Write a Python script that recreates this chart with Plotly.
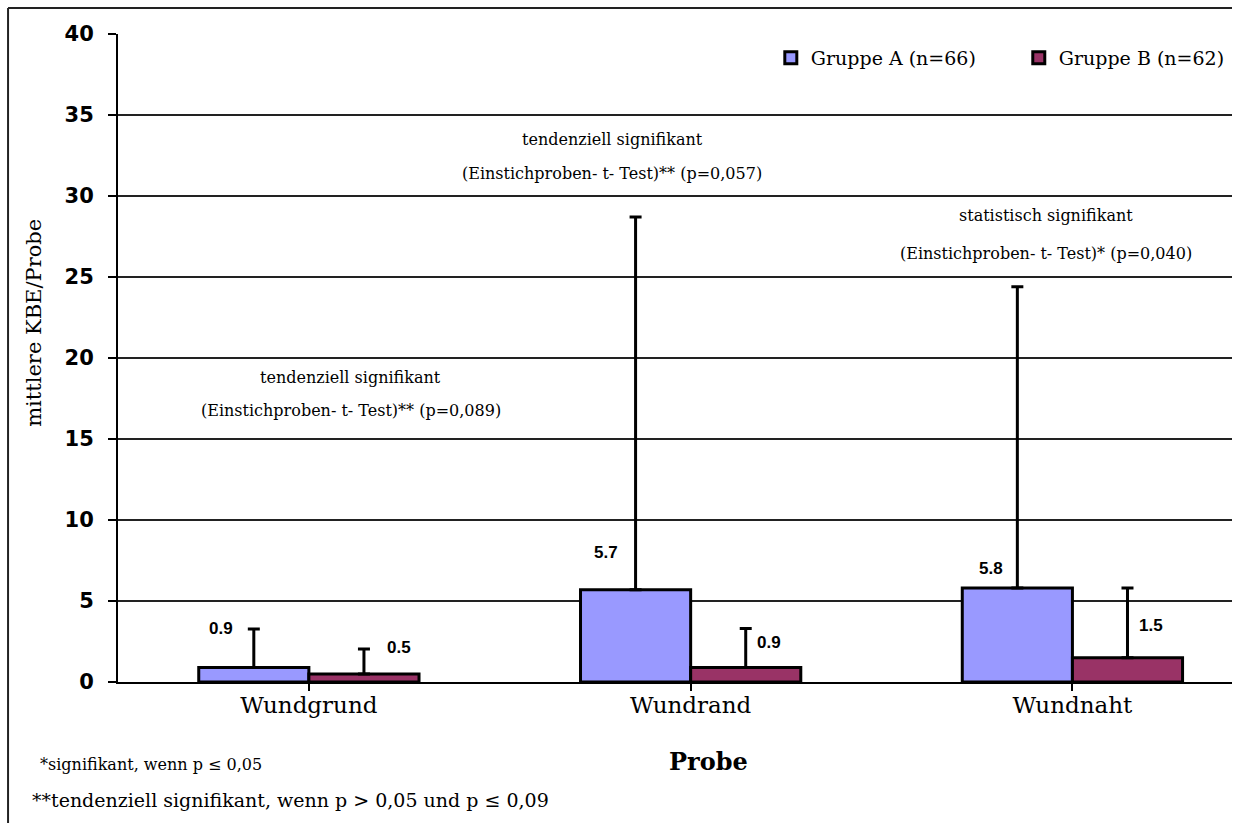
import plotly.graph_objects as go

categories = ["Wundgrund", "Wundrand", "Wundnaht"]
group_a = [0.9, 5.7, 5.8]
group_b = [0.5, 0.9, 1.5]
err_a = [2.37, 23.0, 18.6]
err_b = [1.54, 2.4, 4.3]
names = ["Gruppe A (n=66)", "Gruppe B (n=62)"]
yticks = [0, 5, 10, 15, 20, 25, 30, 35, 40]

sig_texts = [
    ["tendenziell signifikant", "(Einstichproben- t- Test)** (p=0,089)"],
    ["tendenziell signifikant", "(Einstichproben- t- Test)** (p=0,057)"],
    ["statistisch signifikant", "(Einstichproben- t- Test)* (p=0,040)"],
]
footnotes = ["*signifikant, wenn p \u2264 0,05",
             "**tendenziell signifikant, wenn p > 0,05 und p \u2264 0,09"]

SERIF = "DejaVu Serif"
xs = list(range(len(categories)))

fig = go.Figure()
fig.add_trace(go.Bar(
    x=xs, y=group_a, name=names[0], legend="legend",
    marker=dict(color="#9999FF", line=dict(color="black", width=3)),
    error_y=dict(type="data", symmetric=False, array=err_a, arrayminus=[0]*3,
                 color="black", thickness=3, width=6),
))
fig.add_trace(go.Bar(
    x=xs, y=group_b, name=names[1], legend="legend2",
    marker=dict(color="#993366", line=dict(color="black", width=3)),
    error_y=dict(type="data", symmetric=False, array=err_b, arrayminus=[0]*3,
                 color="black", thickness=3, width=6),
))

annotations = []
half = (1 - 0.423) / 4
# value labels (offsets in pixels)
a_shift = [(-33, 39), (-30, 37), (-26, 20)]
b_shift = [(35, 26), (23, 25), (24, 32)]
lab_font = dict(family="Liberation Sans", size=17, color="black", weight="bold")
for i in xs:
    annotations.append(dict(x=i - half, y=group_a[i], xref="x", yref="y",
                            text=f"{group_a[i]:.1f}", showarrow=False,
                            xshift=a_shift[i][0], yshift=a_shift[i][1], font=lab_font))
    annotations.append(dict(x=i + half, y=group_b[i], xref="x", yref="y",
                            text=f"{group_b[i]:.1f}", showarrow=False,
                            xshift=b_shift[i][0], yshift=b_shift[i][1], font=lab_font))

# significance texts
sig_pos = [(0.109, 18.77, 16.79), (0.795, 33.46, 31.36), (1.93, 28.77, 26.48)]
for (x, y1, y2), lines in zip(sig_pos, sig_texts):
    for yy, t in zip((y1, y2), lines):
        annotations.append(dict(x=x, y=yy, xref="x", yref="y", text=t, showarrow=False,
                                font=dict(family=SERIF, size=16, color="black")))

# axis titles
annotations.append(dict(x=-0.075, y=0.555, xref="paper", yref="paper", text="mittlere KBE/Probe",
                        textangle=-90, showarrow=False, xanchor="center", yanchor="middle",
                        font=dict(family=SERIF, size=21, color="black")))
annotations.append(dict(x=0.53, y=-0.123, xref="paper", yref="paper", text="Probe",
                        showarrow=False, xanchor="center", yanchor="middle",
                        font=dict(family=SERIF, size=24, color="black", weight="bold")))
# footnotes
annotations.append(dict(x=-0.0718, y=-0.128, xref="paper", yref="paper", text=footnotes[0],
                        xanchor="left", yanchor="middle", showarrow=False,
                        font=dict(family=SERIF, size=16, color="black")))
annotations.append(dict(x=-0.079, y=-0.182, xref="paper", yref="paper", text=footnotes[1],
                        xanchor="left", yanchor="middle", showarrow=False,
                        font=dict(family=SERIF, size=19, color="black")))

shapes = [
    dict(type="line", xref="paper", yref="paper", x0=-0.0987, x1=-0.0987, y0=1.040, y1=-0.22,
         line=dict(color="#222", width=2)),
    dict(type="line", xref="paper", yref="paper", x0=-0.0987, x1=1.0, y0=1.040, y1=1.040,
         line=dict(color="#222", width=2)),
]

leg_common = dict(orientation="h", xanchor="left", y=0.963, yanchor="middle",
                  font=dict(family=SERIF, size=19, color="black"), bgcolor="rgba(0,0,0,0)")

fig.update_layout(
    width=1247, height=823,
    margin=dict(l=118, r=15, t=34, b=141, autoexpand=False),
    paper_bgcolor="white", plot_bgcolor="white",
    barmode="group", bargap=0.423, bargroupgap=0,
    showlegend=True,
    legend=dict(x=0.586, **leg_common),
    legend2=dict(x=0.8086, **leg_common),
    annotations=annotations, shapes=shapes,
    xaxis=dict(tickmode="array", tickvals=xs, ticktext=categories, range=[-0.5, 2.418],
               showgrid=False, showline=True, linecolor="black", linewidth=2,
               ticks="outside", tickson="boundaries", ticklen=7, tickcolor="black", tickwidth=2,
               ticklabelstandoff=-6,
               tickfont=dict(family=SERIF, size=23, color="black"), zeroline=False),
    yaxis=dict(range=[0, 40], tickvals=yticks, showgrid=True, gridcolor="#222", gridwidth=2,
               showline=True, linecolor="black", linewidth=2, ticks="outside", ticklen=8,
               tickcolor="black", tickwidth=2, ticklabelstandoff=10, zeroline=False,
               tickfont=dict(family="DejaVu Sans", size=21, color="black", weight="bold")),
)

fig.write_html("out.html")
